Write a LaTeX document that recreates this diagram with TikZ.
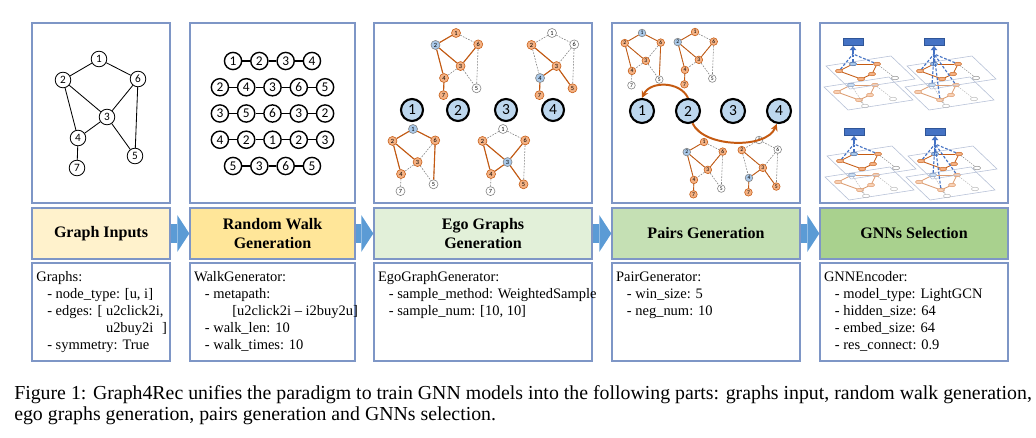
\documentclass[tikz,border=0pt]{standalone}
\usepackage{fontspec}
\setmainfont{Liberation Serif}
\newfontfamily\numfont{Carlito}
\usetikzlibrary{shapes.geometric,arrows.meta}
\definecolor{frameblue}{HTML}{7E96C6}
\definecolor{inputfill}{HTML}{FFF2CC}
\definecolor{walkfill}{HTML}{FFE699}
\definecolor{egofillA}{HTML}{E2F0D9}
\definecolor{pairfill}{HTML}{C5E0B4}
\definecolor{gnnfill}{HTML}{A9D18E}
\definecolor{flowblue}{HTML}{5B9BD5}
\definecolor{egoblue}{HTML}{A9C8E8}
\definecolor{bigblue}{HTML}{BDD7EE}
\definecolor{sampfill}{HTML}{F4B183}
\definecolor{sampdark}{HTML}{C55A11}
\definecolor{restgray}{HTML}{7F7F7F}
\definecolor{gnnblue}{HTML}{4472C4}
\definecolor{gnnedge}{HTML}{2F5597}
\definecolor{planeblue}{HTML}{B4BFD6}
\tikzstyle{panel} = [draw=frameblue, line width=0.9pt, fill=white, minimum height=4.5cm, inner sep=0pt]
\tikzstyle{titlebox} = [draw=frameblue, line width=0.9pt, minimum height=1.275cm, inner sep=0pt,
align=center, font=\fontsize{11.4}{13.3}\selectfont\bfseries]
\tikzstyle{specbox} = [draw=frameblue, line width=0.9pt, fill=white, minimum height=2.45cm, inner sep=0pt]
\tikzstyle{spectext} = [anchor=north west, inner sep=0pt, align=left, font=\fontsize{10.3}{12.1}\selectfont]
\tikzstyle{flowarrow} = [draw=flowblue, line width=14.2pt, -{Triangle[length=8.5pt,width=26pt,line width=0pt]}]
\tikzstyle{plainnode} = [circle, draw=black, fill=white, line width=0.6pt, inner sep=0pt]
\tikzstyle{walknode} = [circle, draw=black, fill=white, line width=1pt, inner sep=0pt,
minimum size=0.43cm, font=\numfont\fontsize{9.5}{9.5}\selectfont]
\tikzstyle{walkline} = [draw=black, line width=1pt]
\tikzstyle{egonode} = [circle, draw=restgray, fill=egoblue, line width=0.4pt, inner sep=0pt]
\tikzstyle{sampnode} = [circle, draw=sampdark, fill=sampfill, line width=0.4pt, inner sep=0pt]
\tikzstyle{restnode} = [circle, draw=restgray, fill=white, line width=0.4pt, inner sep=0pt]
\tikzstyle{restedge} = [draw=restgray, line width=0.4pt, dash pattern=on 1.2pt off 0.9pt]
\tikzstyle{sampedge} = [draw=sampdark, line width=0.8pt]
\tikzstyle{bignode} = [circle, draw=black, fill=bigblue, line width=1.5pt, inner sep=0pt,
minimum size=0.55cm, font=\numfont\fontsize{11}{11}\selectfont]
\tikzstyle{egothree} = [scale=0.57, every node/.append style={minimum size=0.225cm,
font=\numfont\fontsize{4.5}{4.5}\selectfont}]
\tikzstyle{egofour} = [scale=0.48, every node/.append style={minimum size=0.19cm,
font=\numfont\fontsize{4}{4}\selectfont}, sampedge/.append style={line width=0.6pt}]
\tikzstyle{pairarrow} = [draw=sampdark, line width=1.4pt, -{Stealth[length=5pt,width=5pt]}]
\tikzstyle{gego} = [ellipse, draw=gnnedge, fill=egoblue, line width=0.3pt, inner sep=0pt,
minimum width=0.18cm, minimum height=0.09cm]
\tikzstyle{gsamp} = [ellipse, draw=sampdark, fill=sampfill, line width=0.3pt, inner sep=0pt,
minimum width=0.18cm, minimum height=0.09cm]
\tikzstyle{grest} = [ellipse, draw=restgray, fill=white, line width=0.3pt, inner sep=0pt,
minimum width=0.18cm, minimum height=0.09cm]
\tikzstyle{gedge} = [draw=sampdark, line width=0.6pt]
\tikzstyle{grestedge} = [draw=restgray, line width=0.3pt, dash pattern=on 1pt off 0.8pt]
\tikzstyle{layerline} = [draw=planeblue, line width=0.4pt]
\tikzstyle{gnnout} = [draw=gnnedge, fill=gnnblue, line width=0.5pt, inner sep=0pt,
minimum width=0.5cm, minimum height=0.175cm]
\tikzstyle{gnnarrow} = [draw=gnnblue, line width=1.3pt, -{Triangle[length=3pt,width=4.5pt]}]
\tikzstyle{aggline} = [draw=gnnblue, line width=0.8pt, dash pattern=on 2pt off 1.2pt]
\newcommand{\specind}{\hspace*{0.75em}}
% one graph, nodes 1..7, every edge drawn as restedge
\newcommand{\egograph}[8]{%
  \node[#2] (#1-1) at (0,0) {1};
  \node[#3] (#1-2) at (-36,21) {2};
  \node[#4] (#1-3) at (8,58) {3};
  \node[#5] (#1-4) at (-21,79) {4};
  \node[#6] (#1-5) at (36,97) {5};
  \node[#7] (#1-6) at (39,20) {6};
  \node[#8] (#1-7) at (-22,109) {7};
  \foreach \na/\nb in {1/2,1/6,2/3,2/4,6/3,6/5,3/4,3/5,4/7}
    \draw[restedge] (#1-\na) -- (#1-\nb);
}
% two stacked layers with the output block above
\newcommand{\gnnstack}[1]{%
  \draw[layerline] (-29,45) -- (36,35) -- (60,58) -- (-5,68) -- cycle;
  \begin{scope}[opacity=0.6]
    \node[gego] (#1-l0) at (-2,43) {};
    \node[gsamp] (#1-l1) at (-16,50) {};
    \node[gsamp] (#1-l2) at (22,43) {};
    \node[gsamp] (#1-l3) at (17,53) {};
    \node[gsamp] (#1-l4) at (6,58) {};
    \node[grest] (#1-l5) at (40,57) {};
    \node[grest] (#1-l6) at (12,64) {};
    \foreach \na/\nb in {0/1,1/4,2/3,3/4,0/2}
      \draw[gedge] (#1-l\na) -- (#1-l\nb);
    \foreach \na/\nb in {2/5,4/6,0/6}
      \draw[grestedge] (#1-l\na) -- (#1-l\nb);
  \end{scope}
  \draw[layerline] (-27,24) -- (38,14) -- (62,37) -- (-3,47) -- cycle;
  \node[gego] (#1-u0) at (0,22) {};
  \node[gsamp] (#1-u1) at (-14,29) {};
  \node[gsamp] (#1-u2) at (24,22) {};
  \node[gsamp] (#1-u3) at (19,32) {};
  \node[gsamp] (#1-u4) at (8,37) {};
  \node[grest] (#1-u5) at (42,36) {};
  \foreach \na/\nb in {0/1,1/4,2/3,3/4,0/2}
    \draw[gedge] (#1-u\na) -- (#1-u\nb);
  \draw[grestedge] (#1-u2) -- (#1-u5);
  \node[gnnout] (#1-out) at (0,0) {};
  \coordinate (#1-base) at (0,12);
  \draw[gnnarrow] (#1-base) -- (#1-out);
  \foreach \k in {0,1,2}
    \draw[aggline] (#1-u\k) -- (#1-base);
}

\begin{document}
\begin{tikzpicture}[x=0.025cm, y=-0.025cm]
  \useasboundingbox (0,0) rectangle (1036,438);
  % panels
  \node[panel, minimum width=3.45cm] (g1) at (101,113) {};
  \node[panel, minimum width=4.125cm] (g2) at (272.5,113) {};
  \node[panel, minimum width=5.45cm] (g3) at (483,113) {};
  \node[panel, minimum width=4.7cm] (g4) at (706,113) {};
  \node[panel, minimum width=4.7cm] (g5) at (914,113) {};
  % titles
  \node[titlebox, fill=inputfill, minimum width=3.45cm] (t1) at (101,233.5) {Graph Inputs};
  \node[titlebox, fill=walkfill, minimum width=4.125cm] (t2) at (272.5,233.5) {Random Walk\\Generation};
  \node[titlebox, fill=egofillA, minimum width=5.45cm] (t3) at (483,233.5) {Ego Graphs\\Generation};
  \node[titlebox, fill=pairfill, minimum width=4.7cm] (t4) at (706,233.5) {Pairs Generation};
  \node[titlebox, fill=gnnfill, minimum width=4.7cm] (t5) at (914,233.5) {GNNs Selection};
  \draw[flowarrow] (t1.east) -- (t2.west);
  \draw[flowarrow] (t2.east) -- (t3.west);
  \draw[flowarrow] (t3.east) -- (t4.west);
  \draw[flowarrow] (t4.east) -- (t5.west);
  % configs
  \node[specbox, minimum width=3.45cm] (s1) at (101,312) {};
  \node[specbox, minimum width=4.125cm] (s2) at (272.5,312) {};
  \node[specbox, minimum width=5.45cm] (s3) at (483,312) {};
  \node[specbox, minimum width=4.7cm] (s4) at (706,312) {};
  \node[specbox, minimum width=4.7cm] (s5) at (914,312) {};
  \node[spectext] (s1text) at ([xshift=0.12cm, yshift=-0.22cm]s1.north west)
    {Graphs:\\
     \specind- node\_type: [u, i]\\
     \specind- edges: [ u2click2i,\\
     \specind\hphantom{- edges: [ }u2buy2i\hspace{0.6em}]\\
     \specind- symmetry: True};
  \node[spectext] (s2text) at ([xshift=0.11cm, yshift=-0.22cm]s2.north west)
    {WalkGenerator:\\
     \specind- metapath:\\
     \specind\hspace*{1.9em}[u2click2i -- i2buy2u]\\
     \specind- walk\_len: 10\\
     \specind- walk\_times: 10};
  \node[spectext] (s3text) at ([xshift=0.11cm, yshift=-0.22cm]s3.north west)
    {EgoGraphGenerator:\\
     \specind- sample\_method: WeightedSample\\
     \specind- sample\_num: [10, 10]};
  \node[spectext] (s4text) at ([xshift=0.11cm, yshift=-0.22cm]s4.north west)
    {PairGenerator:\\
     \specind- win\_size: 5\\
     \specind- neg\_num: 10};
  \node[spectext] (s5text) at ([xshift=0.11cm, yshift=-0.22cm]s5.north west)
    {GNNEncoder:\\
     \specind- model\_type: LightGCN\\
     \specind- hidden\_size: 64\\
     \specind- embed\_size: 64\\
     \specind- res\_connect: 0.9};
  % graph inputs
  \begin{scope}[shift={(99,59)}, restedge/.style={draw=black, line width=0.6pt},
    every node/.append style={minimum size=0.39cm, font=\numfont\fontsize{8}{8}\selectfont}]
    \egograph{in}{plainnode}{plainnode}{plainnode}{plainnode}{plainnode}{plainnode}{plainnode}
  \end{scope}
  % random walks
  \foreach \len/\walk [count=\r] in {4/{1,2,3,4}, 5/{2,4,3,6,5}, 5/{3,5,6,3,2}, 5/{4,2,1,2,3}, 4/{5,3,6,5}} {
    \foreach \v [count=\c] in \walk {
      \node[walknode] (w\r-\c) at ({272.5+(\c-(\len+1)/2)*26.3}, {61+(\r-1)*26.25}) {\v};
      \ifnum\c>1
        \pgfmathtruncatemacro\p{\c-1}
        \draw[walkline] (w\r-\p) -- (w\r-\c);
      \fi
    }
  }
  % ego graphs
  \begin{scope}[shift={(456,33)}, egothree]
    \egograph{ea}{sampnode}{egonode}{sampnode}{sampnode}{restnode}{sampnode}{sampnode}
    \foreach \na/\nb in {1/2,2/3,2/4,3/6,4/7} \draw[sampedge] (ea-\na) -- (ea-\nb);
  \end{scope}
  \begin{scope}[shift={(552,33)}, egothree]
    \egograph{eb}{restnode}{sampnode}{sampnode}{egonode}{sampnode}{restnode}{sampnode}
    \foreach \na/\nb in {2/3,3/4,3/5,4/7} \draw[sampedge] (eb-\na) -- (eb-\nb);
  \end{scope}
  \begin{scope}[shift={(413,129)}, egothree]
    \egograph{ec}{egonode}{sampnode}{sampnode}{sampnode}{restnode}{sampnode}{restnode}
    \foreach \na/\nb in {1/2,1/6,2/3,2/4,6/5} \draw[sampedge] (ec-\na) -- (ec-\nb);
  \end{scope}
  \begin{scope}[shift={(503,129)}, egothree]
    \egograph{ed}{restnode}{sampnode}{egonode}{sampnode}{sampnode}{sampnode}{restnode}
    \foreach \na/\nb in {2/3,2/4,3/6,3/4,3/5} \draw[sampedge] (ed-\na) -- (ed-\nb);
  \end{scope}
  \foreach \k/\x in {1/412, 2/458, 3/506, 4/553}
    \node[bignode] (c\k) at (\x,110) {\k};
  % pairs
  \begin{scope}[shift={(642,33)}, egofour]
    \egograph{pa}{egonode}{sampnode}{sampnode}{sampnode}{restnode}{sampnode}{restnode}
    \foreach \na/\nb in {1/2,1/6,2/3,2/4,6/5} \draw[sampedge] (pa-\na) -- (pa-\nb);
  \end{scope}
  \begin{scope}[shift={(695,32)}, egofour]
    \egograph{pb}{sampnode}{egonode}{sampnode}{sampnode}{restnode}{sampnode}{sampnode}
    \foreach \na/\nb in {1/2,2/3,2/4,3/6,4/7} \draw[sampedge] (pb-\na) -- (pb-\nb);
  \end{scope}
  \begin{scope}[shift={(704,142)}, egofour]
    \egograph{pc}{sampnode}{egonode}{sampnode}{sampnode}{restnode}{sampnode}{sampnode}
    \foreach \na/\nb in {1/2,2/3,2/4,3/6,4/7} \draw[sampedge] (pc-\na) -- (pc-\nb);
  \end{scope}
  \begin{scope}[shift={(759,140)}, egofour]
    \egograph{pd}{restnode}{sampnode}{sampnode}{egonode}{sampnode}{restnode}{sampnode}
    \foreach \na/\nb in {2/3,3/4,3/5,4/7} \draw[sampedge] (pd-\na) -- (pd-\nb);
  \end{scope}
  \foreach \k/\x in {1/642, 2/688, 3/733, 4/779}
    \node[bignode, minimum size=0.6cm] (p\k) at (\x,111) {\k};
  \draw[pairarrow] (p2.north) .. controls +(-8,-17) and +(8,-17) .. (p1.north);
  \draw[pairarrow] (p2.-70) .. controls +(12,25) and +(-10,25) .. (p4.-100);
  % gnn selection
  \begin{scope}[shift={(853,42)}]
    \gnnstack{ga}
  \end{scope}
  \begin{scope}[shift={(934,42)}]
    \gnnstack{gb}
    \foreach \k in {0,2,4} \draw[aggline] (gb-l\k) -- (gb-base);
  \end{scope}
  \begin{scope}[shift={(854,132)}]
    \gnnstack{gc}
  \end{scope}
  \begin{scope}[shift={(935,132)}]
    \gnnstack{gd}
    \foreach \k in {0,2,4} \draw[aggline] (gd-l\k) -- (gd-base);
  \end{scope}
  % caption
  \node[anchor=base west, inner sep=0pt, font=\fontsize{14.1}{15}\selectfont] (cap1) at (14,399)
    {Figure 1: Graph4Rec unifies the paradigm to train GNN models into the following parts: graphs input, random walk generation,};
  \node[anchor=base west, inner sep=0pt, font=\fontsize{14.1}{15}\selectfont] (cap2) at (14,420)
    {ego graphs generation, pairs generation and GNNs selection.};
\end{tikzpicture}
\end{document}
